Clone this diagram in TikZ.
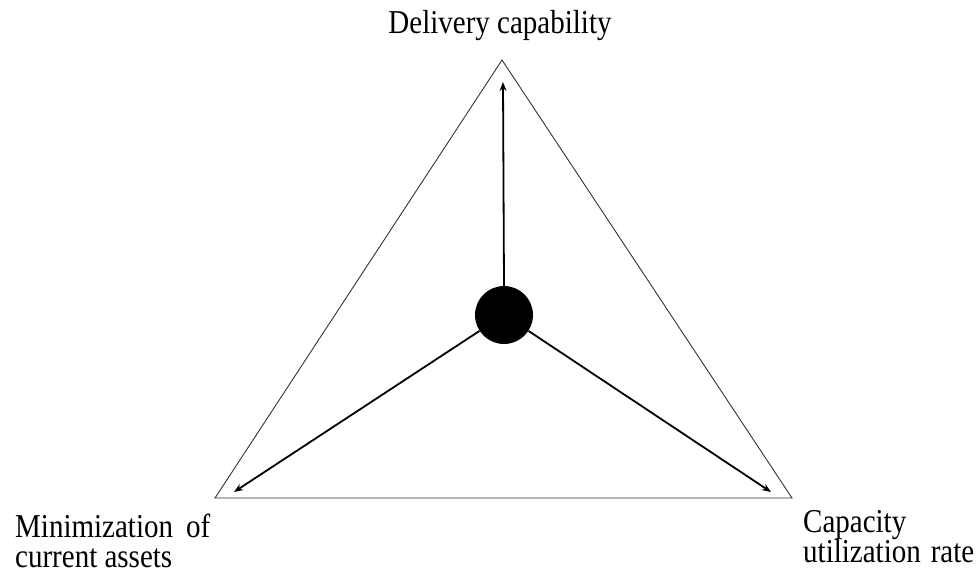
\documentclass[tikz,border=0pt]{standalone}
\usepackage{fontspec}
\setmainfont{Liberation Serif}
\usetikzlibrary{arrows.meta}
\newcommand{\tallone}[1]{\scalebox{1}[1.15]{#1}}
\newcommand{\talltwo}[2]{\scalebox{1}[1.15]{\vtop{\baselineskip=26.1pt\lineskiplimit=-20pt\hbox{#1}\hbox{#2}}}}
\begin{document}
\begin{tikzpicture}[x=1pt,y=-1pt,
  tri/.style={draw=black!80,line width=0.9pt},
  arr/.style={line width=1.8pt,-{Stealth[length=9pt,width=7pt]}},
  lbl/.style={font=\fontsize{29}{26}\selectfont,inner sep=0pt}]
\useasboundingbox (0,0) rectangle (979,571);
\coordinate (T) at (502,60);
\coordinate (L) at (215,498);
\coordinate (R) at (792,498);
\draw[tri] (T) -- (L) -- (R) -- cycle;
\node[circle,fill=black,minimum size=58pt,inner sep=0pt] (c) at (504,315) {};
\coordinate (aT) at (503,82);
\coordinate (aL) at (234,492);
\coordinate (aR) at (771,492);
\draw[arr] (c.north) -- (aT);
\draw[arr] (c.-147) -- (aL);
\draw[arr] (c.-33) -- (aR);
\node[lbl,anchor=base] (top) at (500,33) {\tallone{Delivery capability}};
\node[lbl,anchor=base west] (bl) at (15,537) {\talltwo{Minimization\hspace{13pt}of}{current assets}};
\node[lbl,anchor=base west] (br) at (803,532) {\talltwo{Capacity}{utilization\hspace{10pt}rate}};
\end{tikzpicture}
\end{document}
